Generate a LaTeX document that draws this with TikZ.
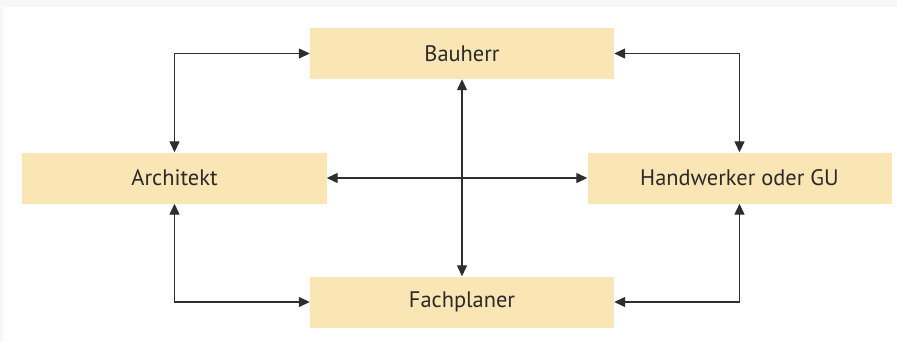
\documentclass[tikz,border=0pt]{standalone}
\usepackage{fontspec}
\setmainfont{PT Sans}
\usetikzlibrary{arrows.meta}
\definecolor{boxfill}{HTML}{FAE5B4}
\definecolor{linecol}{HTML}{2E2E2E}
\definecolor{txtcol}{HTML}{2A2A2A}
\definecolor{bggray}{HTML}{F7F7F7}
\tikzset{
  role/.style={fill=boxfill, draw=none, minimum width=304bp, minimum height=51bp,
    inner sep=0pt, font=\fontsize{22.5}{26}\selectfont, text=txtcol},
  link/.style={line width=1.3bp, draw=linecol,
    {Triangle[length=11bp,width=10bp]}-{Triangle[length=11bp,width=10bp]}}
}
\begin{document}
\begin{tikzpicture}[x=1bp,y=-1bp]
\fill[bggray] (0,0) rectangle (897,341);
\fill[white] (3,7) rectangle (897,341);
\useasboundingbox (0,0) rectangle (897,341);
\node[role] (bau) at (462,53.5) {Bauherr};
\node[role] (arch) at (174.5,178) {Architekt};
\node[role] (hand) at (739.5,178) {Handwerker oder GU};
\node[role] (fach) at (462,302) {Fachplaner};
\draw[link] (arch.north) |- (bau.west);
\draw[link] (bau.east) -| (hand.north);
\draw[link] (arch.south) |- (fach.west);
\draw[link] (fach.east) -| (hand.south);
\draw[link] (bau.south) -- (fach.north);
\draw[link] (arch.east) -- (hand.west);
\end{tikzpicture}
\end{document}
